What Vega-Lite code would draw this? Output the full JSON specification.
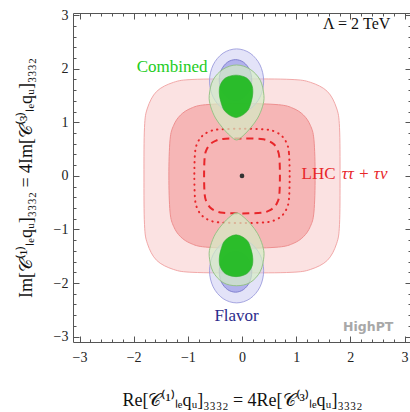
{
  "$schema": "https://vega.github.io/schema/vega-lite/v6.json",
  "width": 338,
  "height": 329,
  "autosize": "none",
  "padding": {"left": 73, "top": 13, "right": 0, "bottom": 70},
  "background": "white",
  "config": {
    "view": {"stroke": null},
    "axis": {
      "grid": false,
      "domainColor": "#555555",
      "tickColor": "#555555",
      "domainWidth": 1,
      "tickWidth": 1,
      "labelFont": "Liberation Serif",
      "labelFontSize": 14,
      "labelColor": "#222222",
      "titleFont": "Liberation Serif",
      "titleFontSize": 18,
      "titleFontWeight": "normal",
      "titleColor": "#111111"
    },
    "text": {"font": "Liberation Serif", "fontSize": 17}
  },
  "datasets": {
    "lhc95": [
      {"i": 0, "x": 1.81, "y": 0}, {"i": 1, "x": 1.8, "y": 0.905}, {"i": 2, "x": 1.745, "y": 1.267},
      {"i": 3, "x": 1.576, "y": 1.576}, {"i": 4, "x": 1.267, "y": 1.745}, {"i": 5, "x": 0.905, "y": 1.8},
      {"i": 6, "x": 0, "y": 1.81}, {"i": 7, "x": -0.905, "y": 1.8}, {"i": 8, "x": -1.267, "y": 1.745},
      {"i": 9, "x": -1.576, "y": 1.576}, {"i": 10, "x": -1.745, "y": 1.267}, {"i": 11, "x": -1.8, "y": 0.905},
      {"i": 12, "x": -1.81, "y": 0}, {"i": 13, "x": -1.8, "y": -0.905}, {"i": 14, "x": -1.745, "y": -1.267},
      {"i": 15, "x": -1.576, "y": -1.576}, {"i": 16, "x": -1.267, "y": -1.745}, {"i": 17, "x": -0.905, "y": -1.8},
      {"i": 18, "x": 0, "y": -1.81}, {"i": 19, "x": 0.905, "y": -1.8}, {"i": 20, "x": 1.267, "y": -1.745},
      {"i": 21, "x": 1.576, "y": -1.576}, {"i": 22, "x": 1.745, "y": -1.267}, {"i": 23, "x": 1.8, "y": -0.905}
    ],
    "lhc68": [
      {"i": 0, "x": 1.35, "y": 0}, {"i": 1, "x": 1.328, "y": 0.675}, {"i": 2, "x": 1.261, "y": 0.945},
      {"i": 3, "x": 1.135, "y": 1.135}, {"i": 4, "x": 0.945, "y": 1.261}, {"i": 5, "x": 0.675, "y": 1.328},
      {"i": 6, "x": 0, "y": 1.35}, {"i": 7, "x": -0.675, "y": 1.328}, {"i": 8, "x": -0.945, "y": 1.261},
      {"i": 9, "x": -1.135, "y": 1.135}, {"i": 10, "x": -1.261, "y": 0.945}, {"i": 11, "x": -1.328, "y": 0.675},
      {"i": 12, "x": -1.35, "y": 0}, {"i": 13, "x": -1.328, "y": -0.675}, {"i": 14, "x": -1.261, "y": -0.945},
      {"i": 15, "x": -1.135, "y": -1.135}, {"i": 16, "x": -0.945, "y": -1.261}, {"i": 17, "x": -0.675, "y": -1.328},
      {"i": 18, "x": 0, "y": -1.35}, {"i": 19, "x": 0.675, "y": -1.328}, {"i": 20, "x": 0.945, "y": -1.261},
      {"i": 21, "x": 1.135, "y": -1.135}, {"i": 22, "x": 1.261, "y": -0.945}, {"i": 23, "x": 1.328, "y": -0.675}
    ],
    "projDotted": [
      {"i": 0, "x": 0.88, "y": 0}, {"i": 1, "x": 0.866, "y": 0.44}, {"i": 2, "x": 0.822, "y": 0.616},
      {"i": 3, "x": 0.74, "y": 0.74}, {"i": 4, "x": 0.616, "y": 0.822}, {"i": 5, "x": 0.44, "y": 0.866},
      {"i": 6, "x": 0, "y": 0.88}, {"i": 7, "x": -0.44, "y": 0.866}, {"i": 8, "x": -0.616, "y": 0.822},
      {"i": 9, "x": -0.74, "y": 0.74}, {"i": 10, "x": -0.822, "y": 0.616}, {"i": 11, "x": -0.866, "y": 0.44},
      {"i": 12, "x": -0.88, "y": 0}, {"i": 13, "x": -0.866, "y": -0.44}, {"i": 14, "x": -0.822, "y": -0.616},
      {"i": 15, "x": -0.74, "y": -0.74}, {"i": 16, "x": -0.616, "y": -0.822}, {"i": 17, "x": -0.44, "y": -0.866},
      {"i": 18, "x": 0, "y": -0.88}, {"i": 19, "x": 0.44, "y": -0.866}, {"i": 20, "x": 0.616, "y": -0.822},
      {"i": 21, "x": 0.74, "y": -0.74}, {"i": 22, "x": 0.822, "y": -0.616}, {"i": 23, "x": 0.866, "y": -0.44}
    ],
    "projDashed": [
      {"i": 0, "x": 0.7, "y": 0}, {"i": 1, "x": 0.689, "y": 0.35}, {"i": 2, "x": 0.654, "y": 0.49},
      {"i": 3, "x": 0.589, "y": 0.589}, {"i": 4, "x": 0.49, "y": 0.654}, {"i": 5, "x": 0.35, "y": 0.689},
      {"i": 6, "x": 0, "y": 0.7}, {"i": 7, "x": -0.35, "y": 0.689}, {"i": 8, "x": -0.49, "y": 0.654},
      {"i": 9, "x": -0.589, "y": 0.589}, {"i": 10, "x": -0.654, "y": 0.49}, {"i": 11, "x": -0.689, "y": 0.35},
      {"i": 12, "x": -0.7, "y": 0}, {"i": 13, "x": -0.689, "y": -0.35}, {"i": 14, "x": -0.654, "y": -0.49},
      {"i": 15, "x": -0.589, "y": -0.589}, {"i": 16, "x": -0.49, "y": -0.654}, {"i": 17, "x": -0.35, "y": -0.689},
      {"i": 18, "x": 0, "y": -0.7}, {"i": 19, "x": 0.35, "y": -0.689}, {"i": 20, "x": 0.49, "y": -0.654},
      {"i": 21, "x": 0.589, "y": -0.589}, {"i": 22, "x": 0.654, "y": -0.49}, {"i": 23, "x": 0.689, "y": -0.35}
    ],
    "flavor95": [
      {"part": "up", "i": 0, "x": 0.4, "y": 1.77}, {"part": "up", "i": 1, "x": 0.333, "y": 2.07},
      {"part": "up", "i": 2, "x": 0.15, "y": 2.29}, {"part": "up", "i": 3, "x": -0.1, "y": 2.37},
      {"part": "up", "i": 4, "x": -0.35, "y": 2.29}, {"part": "up", "i": 5, "x": -0.533, "y": 2.07},
      {"part": "up", "i": 6, "x": -0.6, "y": 1.77}, {"part": "up", "i": 7, "x": -0.533, "y": 1.47},
      {"part": "up", "i": 8, "x": -0.35, "y": 1.25}, {"part": "up", "i": 9, "x": -0.1, "y": 1.17},
      {"part": "up", "i": 10, "x": 0.15, "y": 1.25}, {"part": "up", "i": 11, "x": 0.333, "y": 1.47},
      {"part": "down", "i": 0, "x": 0.4, "y": -1.77}, {"part": "down", "i": 1, "x": 0.333, "y": -2.07},
      {"part": "down", "i": 2, "x": 0.15, "y": -2.29}, {"part": "down", "i": 3, "x": -0.1, "y": -2.37},
      {"part": "down", "i": 4, "x": -0.35, "y": -2.29}, {"part": "down", "i": 5, "x": -0.533, "y": -2.07},
      {"part": "down", "i": 6, "x": -0.6, "y": -1.77}, {"part": "down", "i": 7, "x": -0.533, "y": -1.47},
      {"part": "down", "i": 8, "x": -0.35, "y": -1.25}, {"part": "down", "i": 9, "x": -0.1, "y": -1.17},
      {"part": "down", "i": 10, "x": 0.15, "y": -1.25}, {"part": "down", "i": 11, "x": 0.333, "y": -1.47}
    ],
    "flavor68": [
      {"part": "up", "i": 0, "x": 0.18, "y": 1.79}, {"part": "up", "i": 1, "x": 0.14, "y": 1.98},
      {"part": "up", "i": 2, "x": 0.03, "y": 2.12}, {"part": "up", "i": 3, "x": -0.12, "y": 2.17},
      {"part": "up", "i": 4, "x": -0.27, "y": 2.12}, {"part": "up", "i": 5, "x": -0.38, "y": 1.98},
      {"part": "up", "i": 6, "x": -0.42, "y": 1.79}, {"part": "up", "i": 7, "x": -0.38, "y": 1.6},
      {"part": "up", "i": 8, "x": -0.27, "y": 1.46}, {"part": "up", "i": 9, "x": -0.12, "y": 1.41},
      {"part": "up", "i": 10, "x": 0.03, "y": 1.46}, {"part": "up", "i": 11, "x": 0.14, "y": 1.6},
      {"part": "down", "i": 0, "x": 0.18, "y": -1.79}, {"part": "down", "i": 1, "x": 0.14, "y": -1.98},
      {"part": "down", "i": 2, "x": 0.03, "y": -2.12}, {"part": "down", "i": 3, "x": -0.12, "y": -2.17},
      {"part": "down", "i": 4, "x": -0.27, "y": -2.12}, {"part": "down", "i": 5, "x": -0.38, "y": -1.98},
      {"part": "down", "i": 6, "x": -0.42, "y": -1.79}, {"part": "down", "i": 7, "x": -0.38, "y": -1.6},
      {"part": "down", "i": 8, "x": -0.27, "y": -1.46}, {"part": "down", "i": 9, "x": -0.12, "y": -1.41},
      {"part": "down", "i": 10, "x": 0.03, "y": -1.46}, {"part": "down", "i": 11, "x": 0.14, "y": -1.6}
    ],
    "combined95": [
      {"part": "up", "i": 0, "x": 0.405, "y": 1.5}, {"part": "up", "i": 1, "x": 0.337, "y": 1.785},
      {"part": "up", "i": 2, "x": 0.15, "y": 1.99}, {"part": "up", "i": 3, "x": -0.1, "y": 2.07},
      {"part": "up", "i": 4, "x": -0.35, "y": 1.99}, {"part": "up", "i": 5, "x": -0.537, "y": 1.785},
      {"part": "up", "i": 6, "x": -0.605, "y": 1.5}, {"part": "up", "i": 7, "x": -0.58, "y": 1.3},
      {"part": "up", "i": 8, "x": -0.49, "y": 1.08}, {"part": "up", "i": 9, "x": -0.36, "y": 0.9},
      {"part": "up", "i": 10, "x": -0.22, "y": 0.75}, {"part": "up", "i": 11, "x": -0.1, "y": 0.67},
      {"part": "up", "i": 12, "x": 0.02, "y": 0.75}, {"part": "up", "i": 13, "x": 0.16, "y": 0.9},
      {"part": "up", "i": 14, "x": 0.29, "y": 1.08}, {"part": "up", "i": 15, "x": 0.38, "y": 1.3},
      {"part": "down", "i": 0, "x": 0.405, "y": -1.5}, {"part": "down", "i": 1, "x": 0.337, "y": -1.785},
      {"part": "down", "i": 2, "x": 0.15, "y": -1.99}, {"part": "down", "i": 3, "x": -0.1, "y": -2.05},
      {"part": "down", "i": 4, "x": -0.35, "y": -1.99}, {"part": "down", "i": 5, "x": -0.537, "y": -1.785},
      {"part": "down", "i": 6, "x": -0.605, "y": -1.5}, {"part": "down", "i": 7, "x": -0.58, "y": -1.3},
      {"part": "down", "i": 8, "x": -0.49, "y": -1.08}, {"part": "down", "i": 9, "x": -0.36, "y": -0.9},
      {"part": "down", "i": 10, "x": -0.22, "y": -0.76}, {"part": "down", "i": 11, "x": -0.1, "y": -0.69},
      {"part": "down", "i": 12, "x": 0.02, "y": -0.76}, {"part": "down", "i": 13, "x": 0.16, "y": -0.9},
      {"part": "down", "i": 14, "x": 0.29, "y": -1.08}, {"part": "down", "i": 15, "x": 0.38, "y": -1.3}
    ],
    "combined68": [
      {"part": "up", "i": 0, "x": 0.2, "y": 1.55}, {"part": "up", "i": 1, "x": 0.18, "y": 1.7},
      {"part": "up", "i": 2, "x": 0.08, "y": 1.83}, {"part": "up", "i": 3, "x": -0.11, "y": 1.88},
      {"part": "up", "i": 4, "x": -0.3, "y": 1.83}, {"part": "up", "i": 5, "x": -0.4, "y": 1.7},
      {"part": "up", "i": 6, "x": -0.42, "y": 1.55}, {"part": "up", "i": 7, "x": -0.39, "y": 1.38},
      {"part": "up", "i": 8, "x": -0.31, "y": 1.2}, {"part": "up", "i": 9, "x": -0.11, "y": 1.09},
      {"part": "up", "i": 10, "x": 0.09, "y": 1.2}, {"part": "up", "i": 11, "x": 0.17, "y": 1.38},
      {"part": "down", "i": 0, "x": 0.2, "y": -1.55}, {"part": "down", "i": 1, "x": 0.18, "y": -1.7},
      {"part": "down", "i": 2, "x": 0.08, "y": -1.83}, {"part": "down", "i": 3, "x": -0.11, "y": -1.88},
      {"part": "down", "i": 4, "x": -0.3, "y": -1.83}, {"part": "down", "i": 5, "x": -0.4, "y": -1.7},
      {"part": "down", "i": 6, "x": -0.42, "y": -1.55}, {"part": "down", "i": 7, "x": -0.39, "y": -1.38},
      {"part": "down", "i": 8, "x": -0.31, "y": -1.2}, {"part": "down", "i": 9, "x": -0.11, "y": -1.1},
      {"part": "down", "i": 10, "x": 0.09, "y": -1.2}, {"part": "down", "i": 11, "x": 0.17, "y": -1.38}
    ],
    "bestFit": [{"x": 0, "y": 0}],
    "labels": [
      {"label": "Combined", "x": -1.29, "y": 2.04},
      {"label": "Flavor", "x": -0.1, "y": -2.61},
      {"label": "LHC", "x": 1.1, "y": 0.03},
      {"label": "ττ + τν", "x": 1.84, "y": 0.03},
      {"label": "Λ = 2 TeV", "x": 2.74, "y": 2.83},
      {"label": "HighPT", "x": 2.33, "y": -2.82}
    ]
  },
  "layer": [
    {
      "data": {"name": "lhc95"},
      "mark": {"type": "line", "interpolate": "cardinal-closed", "fill": "#f3a0a0", "fillOpacity": 0.3, "stroke": "#f0a0a0", "strokeWidth": 1, "strokeOpacity": 0.9},
      "encoding": {
        "x": {"field": "x", "type": "quantitative", "scale": {"domain": [-3.12, 3.12], "nice": false, "zero": false},
          "axis": {"orient": "bottom", "values": [-3, -2, -1, 0, 1, 2, 3], "tickSize": -6, "labelPadding": 14, "domain": true,
            "title": "Re[𝒞⁽¹⁾ₗₑqᵤ]₃₃₃₂ = 4Re[𝒞⁽³⁾ₗₑqᵤ]₃₃₃₂", "titlePadding": 27}},
        "y": {"field": "y", "type": "quantitative", "scale": {"domain": [-3.1, 3.04], "nice": false, "zero": false},
          "axis": {"orient": "left", "values": [-3, -2, -1, 0, 1, 2, 3], "tickSize": -6, "labelPadding": 11, "domain": true,
            "title": "Im[𝒞⁽¹⁾ₗₑqᵤ]₃₃₃₂ = 4Im[𝒞⁽³⁾ₗₑqᵤ]₃₃₃₂", "titlePadding": 18}},
        "order": {"field": "i", "type": "quantitative"}
      }
    },
    {
      "data": {"name": "lhc68"},
      "mark": {"type": "line", "interpolate": "cardinal-closed", "fill": "#f08080", "fillOpacity": 0.45, "stroke": "#ee9090", "strokeWidth": 1},
      "encoding": {
        "x": {"field": "x", "type": "quantitative", "scale": {"domain": [-3.12, 3.12], "nice": false, "zero": false},
          "axis": {"orient": "bottom", "values": [-2.8, -2.6, -2.4, -2.2, -1.8, -1.6, -1.4, -1.2, -0.8, -0.6, -0.4, -0.2, 0.2, 0.4, 0.6, 0.8, 1.2, 1.4, 1.6, 1.8, 2.2, 2.4, 2.6, 2.8], "tickSize": -3, "labels": false, "domain": false, "title": null}},
        "y": {"field": "y", "type": "quantitative", "scale": {"domain": [-3.1, 3.04], "nice": false, "zero": false},
          "axis": {"orient": "left", "values": [-2.8, -2.6, -2.4, -2.2, -1.8, -1.6, -1.4, -1.2, -0.8, -0.6, -0.4, -0.2, 0.2, 0.4, 0.6, 0.8, 1.2, 1.4, 1.6, 1.8, 2.2, 2.4, 2.6, 2.8], "tickSize": -3, "labels": false, "domain": false, "title": null}},
        "order": {"field": "i", "type": "quantitative"}
      }
    },
    {
      "data": {"name": "projDotted"},
      "mark": {"type": "line", "interpolate": "cardinal-closed", "stroke": "#e8262a", "strokeWidth": 2, "strokeDash": [0.4, 5.2], "strokeCap": "round"},
      "encoding": {
        "x": {"field": "x", "type": "quantitative", "scale": {"domain": [-3.12, 3.12], "nice": false, "zero": false},
          "axis": {"orient": "top", "values": [-3, -2, -1, 0, 1, 2, 3], "tickSize": -6, "labels": false, "domain": true, "title": null}},
        "y": {"field": "y", "type": "quantitative", "scale": {"domain": [-3.1, 3.04], "nice": false, "zero": false},
          "axis": {"orient": "right", "values": [-3, -2, -1, 0, 1, 2, 3], "tickSize": -6, "labels": false, "domain": true, "title": null}},
        "order": {"field": "i", "type": "quantitative"}
      }
    },
    {
      "data": {"name": "projDashed"},
      "mark": {"type": "line", "interpolate": "cardinal-closed", "stroke": "#e8262a", "strokeWidth": 2, "strokeDash": [7, 5]},
      "encoding": {
        "x": {"field": "x", "type": "quantitative", "scale": {"domain": [-3.12, 3.12], "nice": false, "zero": false},
          "axis": {"orient": "top", "values": [-2.8, -2.6, -2.4, -2.2, -1.8, -1.6, -1.4, -1.2, -0.8, -0.6, -0.4, -0.2, 0.2, 0.4, 0.6, 0.8, 1.2, 1.4, 1.6, 1.8, 2.2, 2.4, 2.6, 2.8], "tickSize": -3, "labels": false, "domain": false, "title": null}},
        "y": {"field": "y", "type": "quantitative", "scale": {"domain": [-3.1, 3.04], "nice": false, "zero": false},
          "axis": {"orient": "right", "values": [-2.8, -2.6, -2.4, -2.2, -1.8, -1.6, -1.4, -1.2, -0.8, -0.6, -0.4, -0.2, 0.2, 0.4, 0.6, 0.8, 1.2, 1.4, 1.6, 1.8, 2.2, 2.4, 2.6, 2.8], "tickSize": -3, "labels": false, "domain": false, "title": null}},
        "order": {"field": "i", "type": "quantitative"}
      }
    },
    {
      "data": {"name": "flavor95"},
      "mark": {"type": "line", "interpolate": "cardinal-closed", "fill": "#c8c8f2", "fillOpacity": 0.5, "stroke": "#9c9cdc", "strokeWidth": 0.9},
      "encoding": {
        "x": {"field": "x", "type": "quantitative", "scale": {"domain": [-3.12, 3.12], "nice": false, "zero": false}, "axis": null},
        "y": {"field": "y", "type": "quantitative", "scale": {"domain": [-3.1, 3.04], "nice": false, "zero": false}, "axis": null},
        "detail": {"field": "part"},
        "order": {"field": "i", "type": "quantitative"}
      }
    },
    {
      "data": {"name": "flavor68"},
      "mark": {"type": "line", "interpolate": "cardinal-closed", "fill": "#8080e0", "fillOpacity": 0.5, "stroke": "#7a7acc", "strokeWidth": 0.9},
      "encoding": {
        "x": {"field": "x", "type": "quantitative", "scale": {"domain": [-3.12, 3.12], "nice": false, "zero": false}, "axis": null},
        "y": {"field": "y", "type": "quantitative", "scale": {"domain": [-3.1, 3.04], "nice": false, "zero": false}, "axis": null},
        "detail": {"field": "part"},
        "order": {"field": "i", "type": "quantitative"}
      }
    },
    {
      "data": {"name": "combined95"},
      "mark": {"type": "line", "interpolate": "cardinal-closed", "fill": "#d4ecc4", "fillOpacity": 0.7, "stroke": "#90c080", "strokeWidth": 0.9},
      "encoding": {
        "x": {"field": "x", "type": "quantitative", "scale": {"domain": [-3.12, 3.12], "nice": false, "zero": false}, "axis": null},
        "y": {"field": "y", "type": "quantitative", "scale": {"domain": [-3.1, 3.04], "nice": false, "zero": false}, "axis": null},
        "detail": {"field": "part"},
        "order": {"field": "i", "type": "quantitative"}
      }
    },
    {
      "data": {"name": "combined68"},
      "mark": {"type": "line", "interpolate": "cardinal-closed", "fill": "#22bb22", "fillOpacity": 0.95, "stroke": "#33aa33", "strokeWidth": 0.6},
      "encoding": {
        "x": {"field": "x", "type": "quantitative", "scale": {"domain": [-3.12, 3.12], "nice": false, "zero": false}, "axis": null},
        "y": {"field": "y", "type": "quantitative", "scale": {"domain": [-3.1, 3.04], "nice": false, "zero": false}, "axis": null},
        "detail": {"field": "part"},
        "order": {"field": "i", "type": "quantitative"}
      }
    },
    {
      "data": {"name": "bestFit"},
      "mark": {"type": "point", "filled": true, "color": "#333333", "size": 22, "opacity": 1},
      "encoding": {
        "x": {"field": "x", "type": "quantitative", "scale": {"domain": [-3.12, 3.12], "nice": false, "zero": false}, "axis": null},
        "y": {"field": "y", "type": "quantitative", "scale": {"domain": [-3.1, 3.04], "nice": false, "zero": false}, "axis": null}
      }
    },
    {
      "data": {"name": "labels"},
      "transform": [{"filter": "datum.label === 'Combined'"}],
      "mark": {"type": "text", "color": "#22cc22", "align": "center", "baseline": "middle", "fontSize": 17},
      "encoding": {
        "x": {"field": "x", "type": "quantitative", "scale": {"domain": [-3.12, 3.12], "nice": false, "zero": false}, "axis": null},
        "y": {"field": "y", "type": "quantitative", "scale": {"domain": [-3.1, 3.04], "nice": false, "zero": false}, "axis": null},
        "text": {"field": "label"}
      }
    },
    {
      "data": {"name": "labels"},
      "transform": [{"filter": "datum.label === 'Flavor'"}],
      "mark": {"type": "text", "color": "#2b2b8c", "align": "center", "baseline": "middle", "fontSize": 17},
      "encoding": {
        "x": {"field": "x", "type": "quantitative", "scale": {"domain": [-3.12, 3.12], "nice": false, "zero": false}, "axis": null},
        "y": {"field": "y", "type": "quantitative", "scale": {"domain": [-3.1, 3.04], "nice": false, "zero": false}, "axis": null},
        "text": {"field": "label"}
      }
    },
    {
      "data": {"name": "labels"},
      "transform": [{"filter": "datum.label === 'LHC'"}],
      "mark": {"type": "text", "color": "#e8262a", "align": "left", "baseline": "middle", "fontSize": 17},
      "encoding": {
        "x": {"field": "x", "type": "quantitative", "scale": {"domain": [-3.12, 3.12], "nice": false, "zero": false}, "axis": null},
        "y": {"field": "y", "type": "quantitative", "scale": {"domain": [-3.1, 3.04], "nice": false, "zero": false}, "axis": null},
        "text": {"field": "label"}
      }
    },
    {
      "data": {"name": "labels"},
      "transform": [{"filter": "datum.label === 'ττ + τν'"}],
      "mark": {"type": "text", "color": "#e8262a", "align": "left", "baseline": "middle", "fontSize": 17, "fontStyle": "italic"},
      "encoding": {
        "x": {"field": "x", "type": "quantitative", "scale": {"domain": [-3.12, 3.12], "nice": false, "zero": false}, "axis": null},
        "y": {"field": "y", "type": "quantitative", "scale": {"domain": [-3.1, 3.04], "nice": false, "zero": false}, "axis": null},
        "text": {"field": "label"}
      }
    },
    {
      "data": {"name": "labels"},
      "transform": [{"filter": "datum.label === 'Λ = 2 TeV'"}],
      "mark": {"type": "text", "color": "#111111", "align": "right", "baseline": "middle", "fontSize": 16},
      "encoding": {
        "x": {"field": "x", "type": "quantitative", "scale": {"domain": [-3.12, 3.12], "nice": false, "zero": false}, "axis": null},
        "y": {"field": "y", "type": "quantitative", "scale": {"domain": [-3.1, 3.04], "nice": false, "zero": false}, "axis": null},
        "text": {"field": "label"}
      }
    },
    {
      "data": {"name": "labels"},
      "transform": [{"filter": "datum.label === 'HighPT'"}],
      "mark": {"type": "text", "color": "#a8a8a8", "align": "center", "baseline": "middle", "font": "DejaVu Sans", "fontWeight": "bold", "fontSize": 12.5},
      "encoding": {
        "x": {"field": "x", "type": "quantitative", "scale": {"domain": [-3.12, 3.12], "nice": false, "zero": false}, "axis": null},
        "y": {"field": "y", "type": "quantitative", "scale": {"domain": [-3.1, 3.04], "nice": false, "zero": false}, "axis": null},
        "text": {"field": "label"}
      }
    }
  ],
  "resolve": {"axis": {"x": "independent", "y": "independent"}}
}
